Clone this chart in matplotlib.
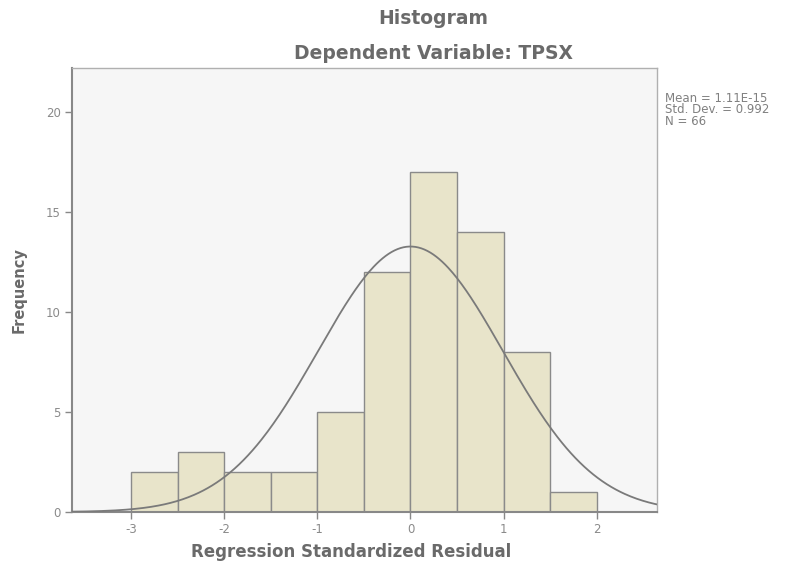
import matplotlib.pyplot as plt
import numpy as np

plt.rcParams['font.family'] = ['DejaVu Sans']
plt.rcParams['axes.unicode_minus'] = False

# Histogram data (bin edges and frequencies)
bin_edges = [-3.0, -2.5, -2.0, -1.5, -1.0, -0.5, 0.0, 0.5, 1.0, 1.5, 2.0]
frequencies = [2, 3, 2, 2, 5, 12, 17, 14, 8, 1]

# Summary statistics shown in the chart
mean = 1.11e-15
std_dev = 0.992
n_obs = 66

x_ticks = [-3, -2, -1, 0, 1, 2]
y_ticks = [0, 5, 10, 15, 20]

fig = plt.figure(figsize=(7.85, 5.65), dpi=100)
ax = fig.add_axes([0.0917, 0.0938, 0.745, 0.786])
ax.set_facecolor('#f6f6f6')

widths = np.diff(bin_edges)
ax.bar(bin_edges[:-1], frequencies, width=widths, align='edge',
       color='#e8e4ca', edgecolor='#8a8a8a', linewidth=1.0, zorder=2)

# normal curve scaled to the histogram
bw = widths[0]
xs = np.linspace(-3.7, 2.7, 400)
ys = n_obs * bw / (std_dev * np.sqrt(2 * np.pi)) * np.exp(-0.5 * ((xs - mean) / std_dev) ** 2)
ax.plot(xs, ys, color='#7a7a7a', linewidth=1.3, zorder=3)

ax.set_xlim(-3.633, 2.644)
ax.set_ylim(0, 22.2)
ax.set_xticks(x_ticks)
ax.set_yticks(y_ticks)
ax.tick_params(direction='out', length=5, width=1, color='#888888',
               labelcolor='#8a8a8a', labelsize=8.5, pad=3)

for s in ax.spines.values():
    s.set_color('#b0b0b0')
    s.set_linewidth(1.0)
ax.spines['left'].set_color('#888888')
ax.spines['bottom'].set_color('#888888')
ax.spines['left'].set_linewidth(1.5)
ax.spines['bottom'].set_linewidth(1.5)

ax.set_xlabel('Regression Standardized Residual', fontsize=12, fontweight='bold',
              color='#6a6a6a')
ax.xaxis.set_label_coords(0.477, -0.07)
ax.set_ylabel('Frequency', fontsize=10.5, fontweight='bold', color='#6a6a6a', labelpad=14)

fig.text(0.552, 0.968, 'Histogram', ha='center', va='center', fontsize=13.5,
         fontweight='bold', color='#6a6a6a')
fig.text(0.552, 0.905, 'Dependent Variable: TPSX', ha='center', va='center', fontsize=13.5,
         fontweight='bold', color='#6a6a6a')

stats = 'Mean = 1.11E-15\nStd. Dev. = {:.3f}\nN = {}'.format(std_dev, n_obs)
fig.text(0.847, 0.838, stats, ha='left', va='top', fontsize=8.5, color='#808080',
         linespacing=0.85)

fig.savefig('out.png', dpi=100)
